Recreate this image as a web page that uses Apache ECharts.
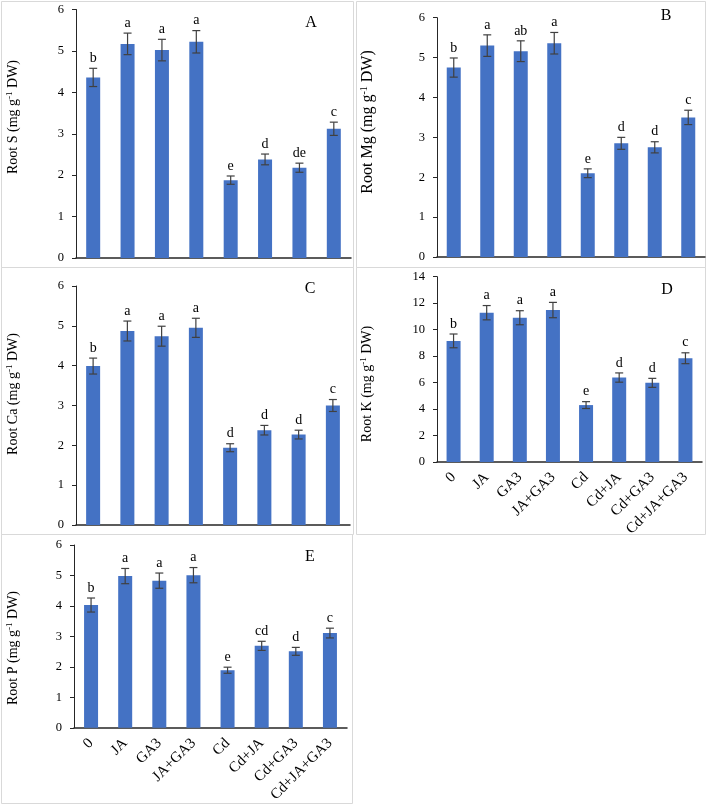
<!DOCTYPE html>
<html>
<head>
<meta charset="utf-8">
<script src="https://cdn.jsdelivr.net/npm/echarts@6/dist/echarts.min.js"></script>
<style>html,body{margin:0;padding:0;background:#fff;}#c{width:708px;height:805px;}</style>
</head>
<body>
<div id="c"></div>
<script>
var categories = ['0', 'JA', 'GA3', 'JA+GA3', 'Cd', 'Cd+JA', 'Cd+GA3', 'Cd+JA+GA3'];

var sVals = [4.36, 5.17, 5.02, 5.22, 1.88, 2.38, 2.18, 3.12];
var sErr = [0.22, 0.26, 0.26, 0.27, 0.10, 0.13, 0.11, 0.16];
var sLetters = ['b', 'a', 'a', 'a', 'e', 'd', 'de', 'c'];

var mgVals = [4.75, 5.30, 5.16, 5.36, 2.10, 2.85, 2.75, 3.50];
var mgErr = [0.24, 0.27, 0.26, 0.27, 0.11, 0.15, 0.14, 0.18];
var mgLetters = ['b', 'a', 'ab', 'a', 'e', 'd', 'd', 'c'];

var caVals = [3.99, 4.87, 4.74, 4.95, 1.94, 2.38, 2.27, 3.00];
var caErr = [0.20, 0.25, 0.25, 0.24, 0.10, 0.12, 0.11, 0.15];
var caLetters = ['b', 'a', 'a', 'a', 'd', 'd', 'd', 'c'];

var kVals = [9.15, 11.28, 10.90, 11.48, 4.30, 6.38, 5.98, 7.84];
var kErr = [0.52, 0.54, 0.53, 0.58, 0.26, 0.35, 0.34, 0.41];
var kLetters = ['b', 'a', 'a', 'a', 'e', 'd', 'd', 'c'];

var pVals = [4.03, 4.98, 4.83, 5.01, 1.89, 2.69, 2.51, 3.11];
var pErr = [0.23, 0.25, 0.25, 0.25, 0.10, 0.15, 0.13, 0.16];
var pLetters = ['b', 'a', 'a', 'a', 'e', 'cd', 'd', 'c'];

var yTicksSmall = {min: 0, max: 6, interval: 1};
var yTicksK = {min: 0, max: 14, interval: 2};

var FONT = '"Liberation Serif", "Times New Roman", serif';

var panels = [
  {vals: sVals, err: sErr, letters: sLetters, elem: 'S', tag: 'A', ticks: yTicksSmall, showX: false,
   grid: {left: 76, top: 9.5, width: 275, height: 248.5}, title: [13, 117], titleSize: 14, tagPos: [311, 23]},
  {vals: mgVals, err: mgErr, letters: mgLetters, elem: 'Mg', tag: 'B', ticks: yTicksSmall, showX: false,
   grid: {left: 437, top: 17.7, width: 268, height: 239.3}, title: [368, 122], titleSize: 16, tagPos: [666, 16]},
  {vals: caVals, err: caErr, letters: caLetters, elem: 'Ca', tag: 'C', ticks: yTicksSmall, showX: false,
   grid: {left: 76, top: 286, width: 274, height: 239}, title: [13, 394], titleSize: 14, tagPos: [310, 289]},
  {vals: kVals, err: kErr, letters: kLetters, elem: 'K', tag: 'D', ticks: yTicksK, showX: true,
   grid: {left: 437, top: 276.7, width: 265, height: 185.3}, title: [367, 384], titleSize: 14, tagPos: [667, 290]},
  {vals: pVals, err: pErr, letters: pLetters, elem: 'P', tag: 'E', ticks: yTicksSmall, showX: true,
   grid: {left: 74, top: 545, width: 273, height: 185.7}, title: [13, 648], titleSize: 14, tagPos: [310, 557]}
];

var grids = [], xAxes = [], yAxes = [], series = [], graphics = [];

var borders = [
  [1.5, 1.5, 352, 266],
  [356.5, 1.5, 349, 266],
  [1.5, 267.5, 352, 267],
  [356.5, 267.5, 349, 267],
  [1.5, 534.5, 351, 269]
];
borders.forEach(function (b) {
  graphics.push({type: 'rect', shape: {x: b[0], y: b[1], width: b[2], height: b[3]},
    style: {fill: 'none', stroke: '#d9d9d9', lineWidth: 1}, silent: true, z: 0});
});

panels.forEach(function (p, k) {
  grids.push(p.grid);
  xAxes.push({
    type: 'category', gridIndex: k, data: categories,
    axisLine: {show: true, lineStyle: {color: '#262626', width: 1.5}},
    axisTick: {show: false},
    axisLabel: {show: p.showX, rotate: 45, interval: 0, fontFamily: FONT, fontSize: 15, color: '#000', margin: 13},
    splitLine: {show: false}
  });
  yAxes.push({
    type: 'value', gridIndex: k, min: p.ticks.min, max: p.ticks.max, interval: p.ticks.interval,
    axisLine: {show: true, lineStyle: {color: '#262626', width: 1}},
    axisTick: {show: true, inside: false, length: 4, lineStyle: {color: '#262626'}},
    axisLabel: {fontFamily: FONT, fontSize: 12.5, color: '#000', margin: 12},
    splitLine: {show: false}
  });
  series.push({
    type: 'bar', xAxisIndex: k, yAxisIndex: k, data: p.vals, barWidth: 14,
    itemStyle: {color: '#4472C4'}, silent: true, animation: false
  });
  var eData = p.vals.map(function (v, i) { return [i, v, p.err[i]]; });
  var letters = p.letters;
  series.push({
    type: 'custom', xAxisIndex: k, yAxisIndex: k, data: eData, encode: {x: 0, y: 1},
    silent: true, animation: false, z: 5,
    renderItem: function (params, api) {
      var i = api.value(0), v = api.value(1), e = api.value(2);
      var top = api.coord([i, v + e]);
      var bot = api.coord([i, v - e]);
      var hw = 4;
      var st = {stroke: '#404040', lineWidth: 1.2};
      return {type: 'group', children: [
        {type: 'line', shape: {x1: top[0], y1: top[1], x2: bot[0], y2: bot[1]}, style: st},
        {type: 'line', shape: {x1: top[0] - hw, y1: top[1], x2: top[0] + hw, y2: top[1]}, style: st},
        {type: 'line', shape: {x1: bot[0] - hw, y1: bot[1], x2: bot[0] + hw, y2: bot[1]}, style: st},
        {type: 'text', style: {text: letters[params.dataIndex], x: top[0], y: top[1] - 3,
          align: 'center', verticalAlign: 'bottom', font: '14px ' + FONT, fill: '#000'}}
      ]};
    }
  });
  graphics.push({
    type: 'text', x: p.title[0], y: p.title[1], rotation: Math.PI / 2, silent: true, z: 10,
    style: {
      text: '{a|Root ' + p.elem + ' (mg g}{s|-1}{a| DW)}',
      align: 'center', verticalAlign: 'middle',
      rich: {
        a: {fontFamily: FONT, fontSize: p.titleSize, fill: '#000', lineHeight: p.titleSize + 2},
        s: {fontFamily: FONT, fontSize: Math.round(p.titleSize * 0.62), fill: '#000', verticalAlign: 'top', lineHeight: Math.round(p.titleSize * 0.62)}
      }
    }
  });
  graphics.push({
    type: 'text', x: p.tagPos[0], y: p.tagPos[1], silent: true, z: 10,
    style: {text: p.tag, align: 'center', verticalAlign: 'middle', font: '16px ' + FONT, fill: '#000'}
  });
});

var chart = echarts.init(document.getElementById('c'), null, {renderer: 'canvas'});
chart.setOption({
  backgroundColor: '#fff',
  animation: false,
  grid: grids,
  xAxis: xAxes,
  yAxis: yAxes,
  series: series,
  graphic: graphics
});
</script>
</body>
</html>
